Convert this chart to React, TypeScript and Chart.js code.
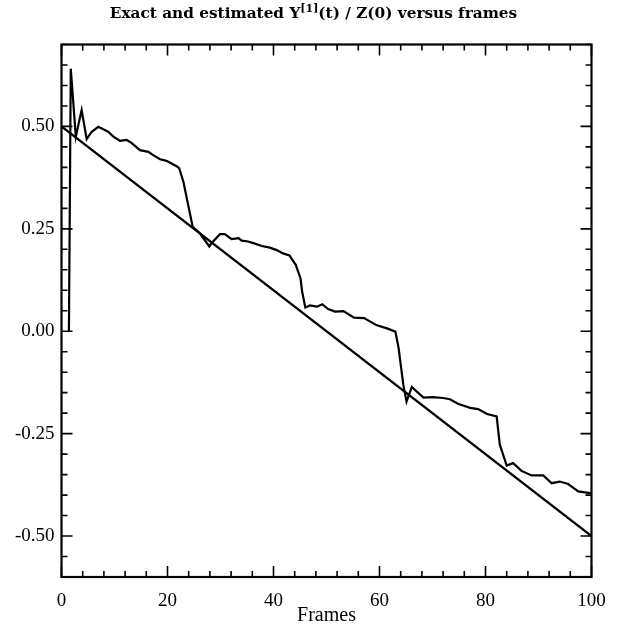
import { useEffect, useRef } from "react";
import { Chart, registerables } from "chart.js";

Chart.register(...registerables);

// Exact trajectory: straight line from the first to the last frame
const exactFrames = [0, 100];
const exactValues = [0.5, -0.5];

// Estimated trajectory
const estFrames = [
  1.4, 1.75, 2.7, 3.8, 4.75, 5.7, 6.95, 8.8, 9.8, 11.0, 12.3, 13.2, 14.8, 16.4,
  17.3, 18.6, 19.8, 21.7, 22.2, 23.0, 23.9, 24.75, 26.1, 27.9, 28.3, 29.9, 30.8,
  32.1, 33.4, 34.0, 35.2, 36.2, 37.8, 39.3, 40.6, 41.8, 43.0, 44.2, 45.1, 45.4,
  46.0, 46.9, 48.2, 49.2, 50.3, 51.6, 53.2, 55.2, 57.1, 59.4, 61.4, 63.0, 63.6,
  64.5, 65.1, 66.1, 67.0, 68.3, 70.0, 72.0, 73.3, 74.8, 77.1, 78.6, 80.3, 82.1,
  82.7, 84.0, 85.2, 86.8, 88.7, 90.9, 92.5, 94.0, 95.6, 97.5, 100,
];
const estValues = [
  0.0, 0.641, 0.475, 0.54, 0.469, 0.487, 0.499, 0.487, 0.475, 0.465, 0.467, 0.46,
  0.442, 0.438, 0.43, 0.42, 0.416, 0.403, 0.398, 0.365, 0.308, 0.255, 0.239, 0.207,
  0.215, 0.237, 0.237, 0.225, 0.227, 0.221, 0.219, 0.215, 0.208, 0.204, 0.198,
  0.19, 0.185, 0.162, 0.129, 0.097, 0.058, 0.063, 0.06, 0.066, 0.054, 0.048,
  0.049, 0.033, 0.032, 0.015, 0.007, -0.001, -0.041, -0.131, -0.172, -0.136,
  -0.147, -0.162, -0.161, -0.163, -0.166, -0.177, -0.187, -0.19, -0.202, -0.208,
  -0.277, -0.328, -0.322, -0.341, -0.352, -0.352, -0.371, -0.367, -0.373, -0.391,
  -0.396,
];

const xTickValues = [0, 20, 40, 60, 80, 100];
const yTickValues = [-0.5, -0.25, 0, 0.25, 0.5];
const xMinorStep = 4;
const yMinorStep = 0.05;

const W = 627;
const H = 628;
const SERIF = '"Liberation Serif", "Times New Roman", serif';
const TITLE_FONT = '"DejaVu Serif", "Liberation Serif", serif';

// Boxed frame with inward tick marks on all four sides
const frameTicks = {
  id: "frameTicks",
  afterDatasetsDraw(chart: any) {
    const { ctx, chartArea: a, scales } = chart;
    const xs = scales.x;
    const ys = scales.y;
    ctx.save();
    ctx.strokeStyle = "#000";
    ctx.lineWidth = 2.2;
    ctx.strokeRect(a.left, a.top, a.right - a.left, a.bottom - a.top);
    ctx.lineWidth = 1.6;
    ctx.beginPath();
    for (let v = xs.min; v <= xs.max + 1e-9; v += xMinorStep) {
      const major = xTickValues.some((t) => Math.abs(t - v) < 1e-6);
      const len = major ? 11 : 6;
      const px = xs.getPixelForValue(v);
      ctx.moveTo(px, a.bottom);
      ctx.lineTo(px, a.bottom - len);
      ctx.moveTo(px, a.top);
      ctx.lineTo(px, a.top + len);
    }
    const n = Math.round((ys.max - ys.min) / yMinorStep);
    for (let i = 0; i <= n; i++) {
      const v = ys.min + i * yMinorStep;
      const major = yTickValues.some((t) => Math.abs(t - v) < 1e-6);
      const len = major ? 11 : 6;
      const py = ys.getPixelForValue(v);
      ctx.moveTo(a.left, py);
      ctx.lineTo(a.left + len, py);
      ctx.moveTo(a.right, py);
      ctx.lineTo(a.right - len, py);
    }
    ctx.stroke();
    ctx.restore();
  },
};

// Title with a superscript index
const titleWithSup = {
  id: "titleWithSup",
  afterDraw(chart: any) {
    const { ctx } = chart;
    const parts = [
      { text: "Exact and estimated Y", size: 15.3, rise: 0 },
      { text: "[1]", size: 11, rise: 6 },
      { text: "(t) / Z(0) versus frames", size: 15.3, rise: 0 },
    ];
    ctx.save();
    ctx.fillStyle = "#000";
    ctx.textBaseline = "alphabetic";
    ctx.textAlign = "left";
    let total = 0;
    const widths = parts.map((p) => {
      ctx.font = `bold ${p.size}px ${TITLE_FONT}`;
      const w = ctx.measureText(p.text).width;
      total += w;
      return w;
    });
    let x = W / 2 - total / 2;
    const baseline = 18;
    parts.forEach((p, i) => {
      ctx.font = `bold ${p.size}px ${TITLE_FONT}`;
      ctx.fillText(p.text, x, baseline - p.rise);
      x += widths[i];
    });
    ctx.restore();
  },
};

export default function App() {
  const ref = useRef<HTMLCanvasElement | null>(null);

  useEffect(() => {
    if (!ref.current) return;
    const chart = new Chart(ref.current, {
      type: "scatter",
      data: {
        datasets: [
          {
            label: "Exact",
            data: exactFrames.map((f, i) => ({ x: f, y: exactValues[i] })),
            showLine: true,
            borderColor: "#000",
            borderWidth: 2.2,
            pointRadius: 0,
            fill: false,
            tension: 0,
          },
          {
            label: "Estimated",
            data: estFrames.map((f, i) => ({ x: f, y: estValues[i] })),
            showLine: true,
            borderColor: "#000",
            borderWidth: 2.2,
            pointRadius: 0,
            fill: false,
            tension: 0,
          },
        ],
      },
      options: {
        animation: false,
        responsive: false,
        devicePixelRatio: 1,
        layout: { padding: { top: 44.5, right: 35.5, left: 0, bottom: 0 } },
        plugins: {
          legend: { display: false },
          title: { display: false },
          tooltip: { enabled: false },
        },
        scales: {
          x: {
            type: "linear",
            min: 0,
            max: 100,
            afterBuildTicks: (s: any) => {
              s.ticks = xTickValues.map((v) => ({ value: v }));
            },
            afterFit: (s: any) => {
              s.height = H - 577;
            },
            grid: { display: false, drawTicks: false },
            border: { display: false },
            ticks: {
              color: "#000",
              padding: 13,
              maxRotation: 0,
              font: { family: SERIF, size: 19 },
            },
            title: {
              display: true,
              text: "Frames",
              color: "#000",
              font: { family: SERIF, size: 20 },
              padding: 0,
            },
          },
          y: {
            type: "linear",
            min: -0.6,
            max: 0.7,
            afterBuildTicks: (s: any) => {
              s.ticks = yTickValues.map((v) => ({ value: v }));
            },
            afterFit: (s: any) => {
              s.width = 61.5;
            },
            grid: { display: false, drawTicks: false },
            border: { display: false },
            ticks: {
              color: "#000",
              padding: 7,
              font: { family: SERIF, size: 19 },
              callback: (v: any) => Number(v).toFixed(2),
            },
          },
        },
      },
      plugins: [frameTicks, titleWithSup],
    });
    return () => chart.destroy();
  }, []);

  return (
    <div style={{ position: "absolute", left: 0, top: 0, width: W, height: H, background: "#fff" }}>
      <canvas ref={ref} width={W} height={H} />
    </div>
  );
}
